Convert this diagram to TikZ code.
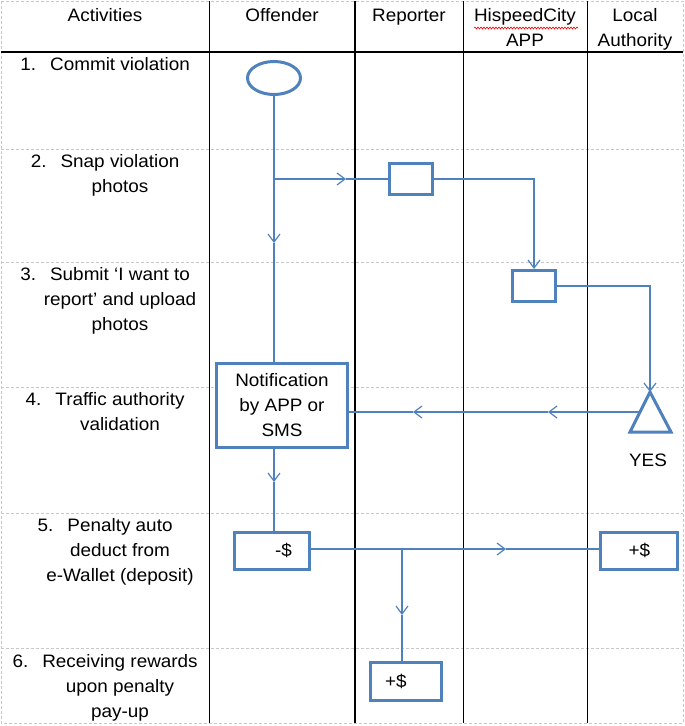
\documentclass[tikz,border=0pt]{standalone}
\usepackage{fontspec}
\setmainfont{Liberation Sans}[FakeStretch=1.05]
\usetikzlibrary{shapes.geometric,arrows.meta,decorations.pathmorphing}
\definecolor{LaneBlue}{RGB}{79,129,189}
\definecolor{GridGray}{RGB}{200,200,200}

\begin{document}
\begin{tikzpicture}[x=1pt,y=-1pt,font=\fontsize{18}{25}\selectfont]
      \tikzstyle{lane}=[black, line width=1.3pt];
      \tikzstyle{rowsep}=[GridGray, line width=0.8pt, dash pattern=on 3pt off 2pt];
      \tikzstyle{blk}=[draw=LaneBlue, fill=white, line width=3pt, inner sep=0pt];
      \tikzstyle{flow}=[LaneBlue, line width=1.2pt];
      \tikzstyle{flowarrow}=[-{Straight Barb[length=8pt,width=12pt]}];
      \tikzstyle{head}=[align=center, anchor=north, inner sep=0pt];
      \tikzstyle{act}=[align=center, anchor=north, inner sep=0pt];

      \useasboundingbox (0,0) rectangle (685,726);

      % grid of the table
      \draw[rowsep] (1,1) rectangle (683,723);
      \foreach \y in {149,262,387,513,648}
        \draw[rowsep] (1,\y) -- (683,\y);
      \draw[lane] (1,52) -- (683,52);
      \foreach \x in {209.5,355,463.5,587.5}
        \draw[lane] (\x,1) -- (\x,723);

      % headers
      \node[head] (hAct) at (105,8.5) {Activities};
      \node[head] (hOff) at (282,8.5) {Offender};
      \node[head] (hRep) at (409,8.5) {Reporter};
      \node[head] (hApp) at (525,8.5) {HispeedCity\\APP};
      \node[head] (hLoc) at (635,8.5) {Local\\Authority};
      \draw[red, line width=0.6pt, decorate, decoration={snake, amplitude=1pt, segment length=3pt}] (474,28) -- (578,28);

      % activities
      \node[act] (s1) at (120,57.5) {\llap{1.\hspace{14pt}}Commit violation};
      \node[act] (s2) at (120,154.5) {\llap{2.\hspace{14pt}}Snap violation\\photos};
      \node[act] (s3) at (120,267.5) {\llap{3.\hspace{14pt}}Submit ‘I want to\\report’ and upload\\photos};
      \node[act] (s4) at (120,392.5) {\llap{4.\hspace{14pt}}Traffic authority\\validation};
      \node[act] (s5) at (120,518.5) {\llap{5.\hspace{14pt}}Penalty auto\\deduct from\\e-Wallet (deposit)};
      \node[act] (s6) at (120,654.5) {\llap{6.\hspace{14pt}}Receiving rewards\\upon penalty\\pay-up};

      % flow shapes
      \node[blk, ellipse, minimum width=53pt, minimum height=33pt] (viol) at (274,78) {};
      \node[blk, minimum width=43pt, minimum height=31pt] (snap) at (410.5,179) {};
      \node[blk, minimum width=43pt, minimum height=31pt] (upload) at (534,286) {};
      \node[blk, minimum width=131pt, minimum height=84pt, align=center] (notify) at (282,405) {Notification\\by APP or\\SMS};
      \node[blk, minimum width=75pt, minimum height=37pt, text width=41pt, inner xsep=17pt, align=right] (deduct) at (271.5,550.5) {-\$};
      \node[blk, minimum width=77pt, minimum height=37pt] (fine) at (639.3,550.8) {+\$};
      \node[blk, minimum width=71pt, minimum height=38pt, text width=42pt, inner xsep=14.5pt, align=left] (reward) at (406,681) {+\$};
      \coordinate (apex) at (650,392);
      \draw[blk] (apex) -- (630,432) -- (671,432) -- cycle;
      \node (yes) at (648,460) {YES};

      % connectors
      \coordinate (a1) at (274,243);
      \coordinate (b0) at (274,179);
      \coordinate (a2) at (346,179);
      \coordinate (triL) at (640,412);
      \coordinate (a3) at (548,412);
      \coordinate (g1) at (471,412);
      \coordinate (a4) at (413,412);
      \coordinate (a5) at (274,482);
      \coordinate (a6) at (506,549);
      \coordinate (b1) at (402,549);
      \coordinate (a7) at (402,615);

      \draw[flow, flowarrow] (viol) -- (a1);
      \draw[flow] (a1) -- (a1 |- notify.north);
      \draw[flow, flowarrow] (b0) -- (a2);
      \draw[flow] (a2) -- (snap.west);
      \draw[flow, flowarrow] (snap.east) -| (upload.north);
      \draw[flow, flowarrow] (upload.east) -| (apex);
      \draw[flow, flowarrow] (triL) -- (a3);
      \draw[flow] (a3) -- (g1);
      \draw[flow, flowarrow] (g1) -- (a4);
      \draw[flow] (a4) -- (a4 -| notify.east);
      \draw[flow, flowarrow] (a5 |- notify.south) -- (a5);
      \draw[flow] (a5) -- (a5 |- deduct.north);
      \draw[flow, flowarrow] (a6 -| deduct.east) -- (a6);
      \draw[flow] (a6) -- (a6 -| fine.west);
      \draw[flow, flowarrow] (b1) -- (a7);
      \draw[flow] (a7) -- (a7 |- reward.north);
\end{tikzpicture}
\end{document}
